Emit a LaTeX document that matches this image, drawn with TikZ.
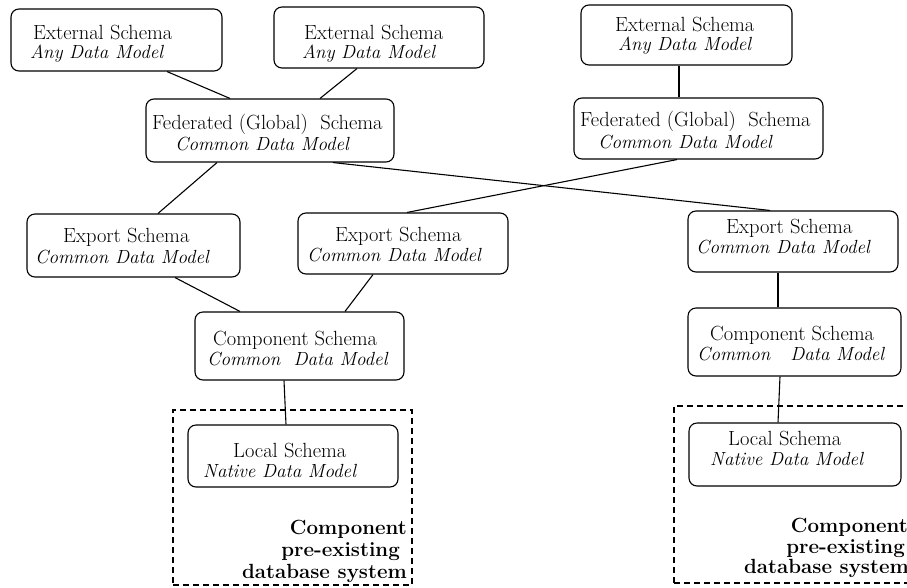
\documentclass[tikz,border=0pt]{standalone}
\usepackage{fontspec}
\begin{document}
\begin{tikzpicture}[x=1pt,y=-1pt,
  schema/.style={draw, rounded corners=8pt, line width=1.1pt, inner sep=0pt},
  txt/.style={anchor=base west, inner sep=0pt, text height=13pt, text depth=2pt,
    font=\fontsize{20.5}{24}\selectfont},
  itx/.style={txt, font=\fontsize{19}{22}\selectfont\itshape},
  link/.style={line width=1.1pt},
  sysbox/.style={draw, dash pattern=on 6pt off 4pt, line width=1.1pt, inner sep=0pt},
  syslab/.style={anchor=base east, inner sep=0pt, text height=14pt, text depth=3pt,
    font=\fontsize{20.5}{22}\selectfont\bfseries}]
\useasboundingbox (0,0) rectangle (907,587);

% dashed frames of the pre-existing component systems
\node[sysbox, minimum width=239pt, minimum height=175pt] (d1) at (292.5,497.5) {};
\node[sysbox, minimum width=241pt, minimum height=177pt] (d2) at (794.5,494.5) {};

% schema boxes
\node[schema, minimum width=211pt, minimum height=62pt] (e1) at (116.5,40) {};
\node[schema, minimum width=210pt, minimum height=61pt] (e2) at (379,37.5) {};
\node[schema, minimum width=211pt, minimum height=60pt] (e3) at (686.5,35) {};
\node[schema, minimum width=248pt, minimum height=63pt] (f1) at (270,130.5) {};
\node[schema, minimum width=249pt, minimum height=61pt] (f2) at (698.5,128.5) {};
\node[schema, minimum width=213pt, minimum height=63pt] (x1) at (133.5,245.5) {};
\node[schema, minimum width=210pt, minimum height=61pt] (x2) at (403,243.5) {};
\node[schema, minimum width=210pt, minimum height=61pt] (x3) at (793,241.5) {};
\node[schema, minimum width=209pt, minimum height=68pt] (c1) at (299.5,346) {};
\node[schema, minimum width=213pt, minimum height=68pt] (c2) at (794.5,342) {};
\node[schema, minimum width=210pt, minimum height=62pt] (l1) at (293,456) {};
\node[schema, minimum width=212pt, minimum height=63pt] (l2) at (795,454.5) {};

% box texts
\node[txt] (e1a) at (33,39) {External Schema};
\node[itx] (e1b) at (30,58) {Any Data Model};
\node[txt] (e2a) at (304,39) {External Schema};
\node[itx] (e2b) at (302,58) {Any Data Model};
\node[txt] (e3a) at (615,31) {External Schema};
\node[itx] (e3b) at (618,50) {Any Data Model};
\node[txt] (f1a) at (152,129) {Federated (Global)\ \ Schema};
\node[itx] (f1b) at (175,150) {Common Data Model};
\node[txt] (f2a) at (580,126) {Federated (Global)\ \ Schema};
\node[itx] (f2b) at (598,148) {Common Data Model};
\node[txt] (x1a) at (63,242) {Export Schema};
\node[itx] (x1b) at (35,263) {Common Data Model};
\node[txt] (x2a) at (335,241) {Export Schema};
\node[itx] (x2b) at (307,261) {Common Data Model};
\node[txt] (x3a) at (726,233) {Export Schema};
\node[itx] (x3b) at (696,253) {Common Data Model};
\node[txt] (c1a) at (213,345) {Component Schema};
\node[itx] (c1b) at (207,365) {Common\ \ Data Model};
\node[txt] (c2a) at (710,340) {Component Schema};
\node[itx] (c2b) at (697,360) {Common\ \ \ Data Model};
\node[txt] (l1a) at (233,457) {Local Schema};
\node[itx] (l1b) at (203,477) {Native Data Model};
\node[txt] (l2a) at (728,445) {Local Schema};
\node[itx] (l2b) at (710,465) {Native Data Model};

% component system captions
\node[syslab] (d1a) at (407,534) {Component};
\node[syslab] (d1b) at (400,556) {pre-existing};
\node[syslab] (d1c) at (407,578) {database system};
\node[syslab] (d2a) at (908,532) {Component};
\node[syslab] (d2b) at (905,553) {pre-existing};
\node[syslab] (d2c) at (909,573) {database system};

% connectors
\draw[link] ([xshift=50.5pt]e1.south) -- ([xshift=-40pt]f1.north);
\draw[link] ([xshift=-22pt]e2.south) -- ([xshift=50pt]f1.north);
\draw[link] ([xshift=-7.5pt]e3.south) -- ([xshift=-19.5pt]f2.north);
\draw[link] ([xshift=-53pt]f1.south) -- ([xshift=24.5pt]x1.north);
\draw[link] ([xshift=63pt]f1.south) -- ([xshift=-23pt]x3.north);
\draw[link] ([xshift=-21.5pt]f2.south) -- ([xshift=4pt]x2.north);
\draw[link] ([xshift=41.5pt]x1.south) -- ([xshift=-59.5pt]c1.north);
\draw[link] ([xshift=-30pt]x2.south) -- ([xshift=45.5pt]c1.north);
\draw[link] ([xshift=-15pt]x3.south) -- ([xshift=-16.5pt]c2.north);
\draw[link] ([xshift=-15.5pt]c1.south) -- ([xshift=-7pt]l1.north);
\draw[link] ([xshift=-14.5pt]c2.south) -- ([xshift=-17pt]l2.north);
\end{tikzpicture}
\end{document}
